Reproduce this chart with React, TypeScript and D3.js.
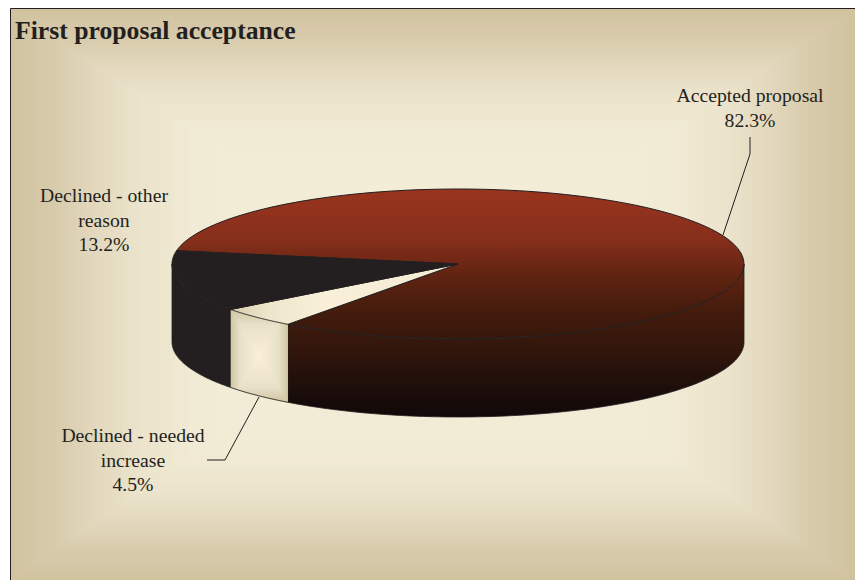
import React from 'react';
import * as d3 from 'd3';

// chart values
const categories = ['Accepted proposal', 'Declined - needed increase', 'Declined - other reason'];
const shares = [82.3, 4.5, 13.2];
const labelLines = [
  ['Accepted proposal', '82.3%'],
  ['Declined - needed', 'increase', '4.5%'],
  ['Declined - other', 'reason', '13.2%'],
];
const chartTitle = 'First proposal acceptance';

const width = 855;
const height = 580;
const frame = { left: 10.5, top: 8.5 };
const cx = 458;
const cy = 264;
const rx = 286;
const ry = 75;
const depth = 78;
const ink = '#231F20';
const toRad = Math.PI / 180;

// d3.pie gives the angles, the rim is then squashed to an ellipse
const pie = d3.pie<number>().sort(null).startAngle(-79.8 * toRad).endAngle(280.2 * toRad);
const slices = pie(shares);

const ex = d3.scaleLinear().domain([-1, 1]).range([cx - rx, cx + rx]);
const ey = d3.scaleLinear().domain([-1, 1]).range([cy - ry, cy + ry]);
const toLine = d3.line<[number, number]>();

const rimPoints = (a0: number, a1: number, drop: number): [number, number][] =>
  d3.range(0, 91).map(i => {
    const a = a0 + ((a1 - a0) * i) / 90;
    return [ex(Math.sin(a)), ey(-Math.cos(a)) + drop];
  });

const facePath = (a0: number, a1: number) =>
  toLine([[cx, cy], ...rimPoints(a0, a1, 0)]) + 'Z';

// outline of the side wall under a rim section
const wallPath = (a0: number, a1: number) =>
  toLine([...rimPoints(a0, a1, 0), ...rimPoints(a0, a1, depth).reverse()]) + 'Z';

// nested rects give the rectangular "path" gradient of the original
const RectGradient = ({ x, y, w, h, stops, steps, clipPath }: any) => {
  const tone = d3.scaleLinear<string>().domain(stops.map((s: any) => s[0])).range(stops.map((s: any) => s[1]));
  return (
    <g clipPath={clipPath}>
      {d3.range(steps).map(i => {
        const t = i / steps;
        return (
          <rect
            key={i}
            x={x + (t * w) / 2}
            y={y + (t * h) / 2}
            width={w * (1 - t)}
            height={h * (1 - t)}
            fill={tone(t)}
          />
        );
      })}
    </g>
  );
};

const App = () => {
  const [accepted, needed] = slices;
  const front = 90 * toRad;
  const left = 270 * toRad;

  return (
    <svg
      width={width}
      height={height}
      viewBox={`0 0 ${width} ${height}`}
      style={{ position: 'absolute', left: 0, top: 0, display: 'block', background: '#fff' }}
      fontFamily="'Liberation Serif', serif"
    >
      <defs>
        <linearGradient id="acceptedFill" gradientUnits="userSpaceOnUse" x1="0" x2="0" y1={cy - ry} y2={cy + ry + depth}>
          <stop offset="0" stopColor="#99341E" />
          <stop offset="0.22" stopColor="#862F1B" />
          <stop offset="0.4" stopColor="#5C2210" />
          <stop offset="0.55" stopColor="#421B0C" />
          <stop offset="0.7" stopColor="#32160C" />
          <stop offset="1" stopColor="#0F0809" />
        </linearGradient>
        <linearGradient id="neededTop" gradientUnits="userSpaceOnUse" x1="230" x2="450" y1="0" y2="0">
          <stop offset="0" stopColor="#D8CDB0" />
          <stop offset="0.18" stopColor="#EEE6CC" />
          <stop offset="0.45" stopColor="#FAF0DA" />
          <stop offset="1" stopColor="#F2EAD3" />
        </linearGradient>
        <clipPath id="neededWall">
          <path d={wallPath(accepted.endAngle, needed.endAngle)} />
        </clipPath>
      </defs>

      <RectGradient
        x={frame.left}
        y={frame.top}
        w={width - frame.left}
        h={height - frame.top}
        steps={90}
        stops={[[0, '#D1C3A0'], [0.1, '#D8CBAC'], [0.2, '#E3D9BE'], [0.3, '#EBE3CB'], [0.42, '#F1EAD4'], [0.65, '#F3EDD8'], [1, '#F8F0DC']]}
      />
      <path
        d={`M${frame.left},${height}V${frame.top}H${width}`}
        fill="none"
        stroke={ink}
        strokeWidth={1}
      />

      <text x={15} y={39} fontSize={25.7} fontWeight="bold" fill={ink}>{chartTitle}</text>

      {/* side walls */}
      <path d={wallPath(front, accepted.endAngle)} fill="url(#acceptedFill)" stroke={ink} strokeWidth={0.8} />
      <path d={wallPath(needed.endAngle, left)} fill={ink} stroke={ink} strokeWidth={0.8} />
      <RectGradient
        x={ex(Math.sin(needed.endAngle))}
        y={ey(-Math.cos(needed.endAngle))}
        w={ex(Math.sin(accepted.endAngle)) - ex(Math.sin(needed.endAngle))}
        h={ey(-Math.cos(accepted.endAngle)) + depth - ey(-Math.cos(needed.endAngle))}
        steps={24}
        clipPath="url(#neededWall)"
        stops={[[0, '#D2C6A5'], [0.3, '#E8E0C8'], [1, '#FBF0DA']]}
      />
      <path
        d={toLine(rimPoints(accepted.endAngle, needed.endAngle, depth)) as string}
        fill="none"
        stroke={ink}
        strokeWidth={1}
      />

      {/* top faces */}
      {slices.map((s, i) => (
        <path
          key={categories[i]}
          d={facePath(s.startAngle, s.endAngle)}
          fill={['url(#acceptedFill)', 'url(#neededTop)', ink][i]}
          stroke={ink}
          strokeWidth={1}
        />
      ))}

      {/* leader lines */}
      <path d={toLine([[750, 137], [750, 154], [723, 235]]) as string} fill="none" stroke={ink} strokeWidth={1} />
      <path d={toLine([[207, 460], [225, 460], [259, 397]]) as string} fill="none" stroke={ink} strokeWidth={1} />

      {/* labels */}
      {labelLines.map((lines, i) => (
        <text key={i} fontSize={19.7} fill={ink} textAnchor="middle">
          {lines.map((line, j) => (
            <tspan
              key={line}
              x={[750, 133, 104][i]}
              y={[102, 442, 202][i] + j * 24.7}
            >
              {line}
            </tspan>
          ))}
        </text>
      ))}
    </svg>
  );
};

export default App;
